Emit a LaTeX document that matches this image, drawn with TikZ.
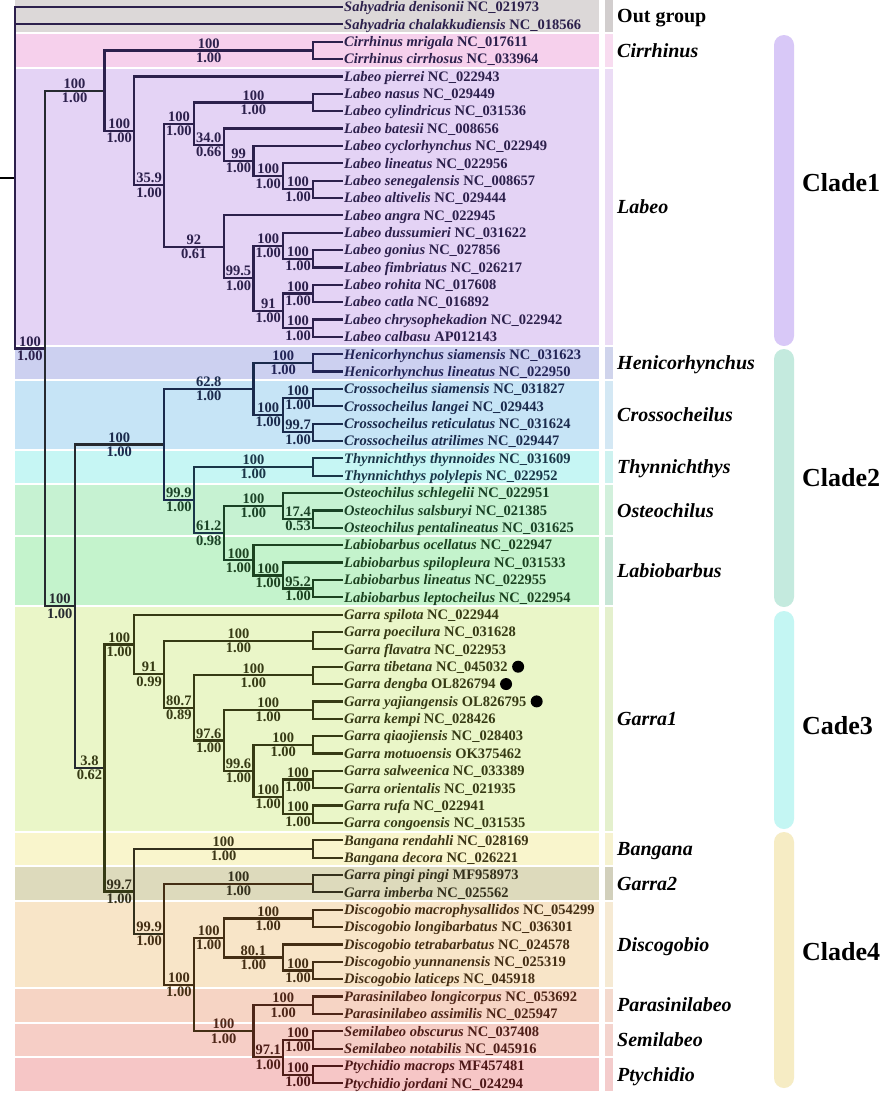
\documentclass[tikz,border=0pt]{standalone}
\usepackage{fontspec}
\setmainfont{Liberation Serif}
\usetikzlibrary{positioning, calc}

% band fills, side strips, clade bars
\definecolor{bgout}{RGB}{220,216,216}  \definecolor{stout}{RGB}{210,206,206}
\definecolor{bgcir}{RGB}{246,208,236}  \definecolor{stcir}{RGB}{248,220,240}
\definecolor{bglab}{RGB}{228,211,245}  \definecolor{stlab}{RGB}{235,220,245}
\definecolor{bghen}{RGB}{204,208,240}  \definecolor{sthen}{RGB}{208,212,236}
\definecolor{bgcro}{RGB}{198,228,246}  \definecolor{stcro}{RGB}{212,232,244}
\definecolor{bgthy}{RGB}{198,246,244}  \definecolor{stthy}{RGB}{206,242,240}
\definecolor{bgost}{RGB}{198,242,210}  \definecolor{stost}{RGB}{210,240,220}
\definecolor{bglbb}{RGB}{196,243,204}  \definecolor{stlbb}{RGB}{200,230,214}
\definecolor{bgga}{RGB}{234,246,200}   \definecolor{stga}{RGB}{228,240,205}
\definecolor{bgban}{RGB}{249,245,204}  \definecolor{stban}{RGB}{246,242,208}
\definecolor{bggb}{RGB}{221,218,188}   \definecolor{stgb}{RGB}{210,208,188}
\definecolor{bgdis}{RGB}{248,229,200}  \definecolor{stdis}{RGB}{246,234,212}
\definecolor{bgpar}{RGB}{246,212,196}  \definecolor{stpar}{RGB}{244,218,206}
\definecolor{bgsem}{RGB}{246,206,198}  \definecolor{stsem}{RGB}{244,212,206}
\definecolor{bgpty}{RGB}{246,198,198}  \definecolor{stpty}{RGB}{244,204,204}
\definecolor{barone}{RGB}{216,200,247}
\definecolor{bartwo}{RGB}{196,234,222}
\definecolor{barthree}{RGB}{196,246,243}
\definecolor{barfour}{RGB}{246,236,196}
% inks
\definecolor{inkpur}{RGB}{44,32,76}
\definecolor{inkhen}{RGB}{34,36,86}
\definecolor{inkcro}{RGB}{26,42,76}
\definecolor{inkthy}{RGB}{26,54,72}
\definecolor{inkost}{RGB}{26,66,38}
\definecolor{inklbb}{RGB}{28,66,32}
\definecolor{inkga}{RGB}{54,58,20}
\definecolor{inkban}{RGB}{60,54,22}
\definecolor{inkgb}{RGB}{52,48,28}
\definecolor{inkdis}{RGB}{68,46,20}
\definecolor{inkpar}{RGB}{78,38,24}
\definecolor{inksem}{RGB}{78,30,24}
\definecolor{inkpty}{RGB}{78,24,24}
\definecolor{inkmix}{RGB}{38,42,48}

\begin{document}
\begin{tikzpicture}[
    % GLOBAL SETTINGS
    x=1pt, y=-1pt,
    % STYLES
    leaf/.style={anchor=west, inner xsep=1pt, inner ysep=0pt, text height=9.6pt, text depth=0pt, font=\fontsize{14.5}{16}\selectfont\bfseries},
    supp/.style={inner sep=2pt, font=\fontsize{14.5}{16}\selectfont\bfseries},
    edge/.style={draw, line width=2.2pt},
    genus/.style={anchor=west, inner sep=0pt, text height=13.2pt, text depth=0pt, font=\fontsize{20}{22}\selectfont\bfseries\itshape},
    clade/.style={anchor=west, inner sep=0pt, text height=17.2pt, text depth=0pt, font=\fontsize{26}{28}\selectfont\bfseries},
    dot/.style={circle, fill=black, minimum size=12pt, inner sep=0pt},
    bar/.style={rounded corners=10pt}
]

    \path[use as bounding box, fill=white] (0,0) rectangle (886,1093);

    \def\dy{17.36}

    % Bands, strips and genus names
    \foreach \i/\j/\bg/\st/\gname in {0/1/bgout/stout/{\upshape Out group}, 2/3/bgcir/stcir/Cirrhinus,
        4/19/bglab/stlab/Labeo, 20/21/bghen/sthen/Henicorhynchus, 22/25/bgcro/stcro/Crossocheilus,
        26/27/bgthy/stthy/Thynnichthys, 28/30/bgost/stost/Osteochilus, 31/34/bglbb/stlbb/Labiobarbus,
        35/47/bgga/stga/Garra1, 48/49/bgban/stban/Bangana, 50/51/bggb/stgb/Garra2,
        52/56/bgdis/stdis/Discogobio, 57/58/bgpar/stpar/Parasinilabeo, 59/60/bgsem/stsem/Semilabeo,
        61/62/bgpty/stpty/Ptychidio} {
        \fill[\bg] (15,{7+\dy*(\i-0.5)+1}) rectangle (599,{7+\dy*(\j+0.5)-1});
        \fill[\st] (605,{7+\dy*(\i-0.5)+1}) rectangle (613,{7+\dy*(\j+0.5)-1});
        \node[genus] (g\i) at (617,{7+\dy*(\i+\j)/2}) {\gname};
    }

    % Clade bars
    \foreach \ya/\yb/\col/\cname/\yl in {35/346/barone/Clade1/183, 349/607/bartwo/Clade2/478,
        611/829/barthree/Cade3/726, 832/1088/barfour/Clade4/952} {
        \fill[\col, bar] (774,\ya) rectangle (794,\yb);
        \node[clade] (k\yl) at (802,\yl) {\cname};
    }

    % Leaves
    \foreach \i/\spc/\acc/\ink in {
        0/Sahyadria denisonii/NC\_021973/inkpur, 1/Sahyadria chalakkudiensis/NC\_018566/inkpur,
        2/Cirrhinus mrigala/NC\_017611/inkpur, 3/Cirrhinus cirrhosus/NC\_033964/inkpur,
        4/Labeo pierrei/NC\_022943/inkpur, 5/Labeo nasus/NC\_029449/inkpur,
        6/Labeo cylindricus/NC\_031536/inkpur, 7/Labeo batesii/NC\_008656/inkpur,
        8/Labeo cyclorhynchus/NC\_022949/inkpur, 9/Labeo lineatus/NC\_022956/inkpur,
        10/Labeo senegalensis/NC\_008657/inkpur, 11/Labeo altivelis/NC\_029444/inkpur,
        12/Labeo angra/NC\_022945/inkpur, 13/Labeo dussumieri/NC\_031622/inkpur,
        14/Labeo gonius/NC\_027856/inkpur, 15/Labeo fimbriatus/NC\_026217/inkpur,
        16/Labeo rohita/NC\_017608/inkpur, 17/Labeo catla/NC\_016892/inkpur,
        18/Labeo chrysophekadion/NC\_022942/inkpur, 19/Labeo calbasu/AP012143/inkpur,
        20/Henicorhynchus siamensis/NC\_031623/inkhen, 21/Henicorhynchus lineatus/NC\_022950/inkhen,
        22/Crossocheilus siamensis/NC\_031827/inkcro, 23/Crossocheilus langei/NC\_029443/inkcro,
        24/Crossocheilus reticulatus/NC\_031624/inkcro, 25/Crossocheilus atrilimes/NC\_029447/inkcro,
        26/Thynnichthys thynnoides/NC\_031609/inkthy, 27/Thynnichthys polylepis/NC\_022952/inkthy,
        28/Osteochilus schlegelii/NC\_022951/inkost, 29/Osteochilus salsburyi/NC\_021385/inkost,
        30/Osteochilus pentalineatus/NC\_031625/inkost, 31/Labiobarbus ocellatus/NC\_022947/inklbb,
        32/Labiobarbus spilopleura/NC\_031533/inklbb, 33/Labiobarbus lineatus/NC\_022955/inklbb,
        34/Labiobarbus leptocheilus/NC\_022954/inklbb, 35/Garra spilota/NC\_022944/inkga,
        36/Garra poecilura/NC\_031628/inkga, 37/Garra flavatra/NC\_022953/inkga,
        38/Garra tibetana/NC\_045032/inkga, 39/Garra dengba/OL826794/inkga,
        40/Garra yajiangensis/OL826795/inkga, 41/Garra kempi/NC\_028426/inkga,
        42/Garra qiaojiensis/NC\_028403/inkga, 43/Garra motuoensis/OK375462/inkga,
        44/Garra salweenica/NC\_033389/inkga, 45/Garra orientalis/NC\_021935/inkga,
        46/Garra rufa/NC\_022941/inkga, 47/Garra congoensis/NC\_031535/inkga,
        48/Bangana rendahli/NC\_028169/inkban, 49/Bangana decora/NC\_026221/inkban,
        50/Garra pingi pingi/MF958973/inkgb, 51/Garra imberba/NC\_025562/inkgb,
        52/Discogobio macrophysallidos/NC\_054299/inkdis, 53/Discogobio longibarbatus/NC\_036301/inkdis,
        54/Discogobio tetrabarbatus/NC\_024578/inkdis, 55/Discogobio yunnanensis/NC\_025319/inkdis,
        56/Discogobio laticeps/NC\_045918/inkdis, 57/Parasinilabeo longicorpus/NC\_053692/inkpar,
        58/Parasinilabeo assimilis/NC\_025947/inkpar, 59/Semilabeo obscurus/NC\_037408/inksem,
        60/Semilabeo notabilis/NC\_045916/inksem, 61/Ptychidio macrops/MF457481/inkpty,
        62/Ptychidio jordani/NC\_024294/inkpty} {
        \node[leaf, text=\ink] (l\i) at (343,{7+\dy*\i}) {\textit{\spc} \acc};
    }

    % Newly sequenced species
    \foreach \i in {38, 39, 40} {
        \node[dot, right=3pt of l\i] (dot\i) {};
    }

    % Cherries (two leaves)
    \foreach \n/\i/\ink in {cCir/2/inkpur, cNas/5/inkpur, cSen/10/inkpur, cGon/14/inkpur, cRoh/16/inkpur,
        cChr/18/inkpur, cHen/20/inkhen, cCsi/22/inkcro, cCre/24/inkcro, cThy/26/inkthy, cOsa/29/inkost,
        cLli/33/inklbb, cGpo/36/inkga, cGti/38/inkga, cGya/40/inkga, cGqi/42/inkga, cGsa/44/inkga,
        cGru/46/inkga, cBan/48/inkban, cGpi/50/inkgb, cDma/52/inkdis, cDyu/55/inkdis, cPar/57/inkpar,
        cSem/59/inksem, cPty/61/inkpty} {
        \pgfmathtruncatemacro\j{\i+1}
        \coordinate (\n) at ($(l\i.west)!0.5!(l\j.west) + (-30,0)$);
        \draw[edge, \ink] (l\i.west) -| (\n) |- (l\j.west);
    }

    % Inner nodes
    \foreach \n/\x/\y in {root/15/177.7, Ing/44.8/348.44, A/104.4/90.61, Lab/134.2/130.83,
        L1/164/185.21, L2/193.8/123.64, L4/223.6/144.8, L5/253.4/161.07, L6/283.2/176.26,
        L3/223.6/246.79, L7/253.4/278.25, L8/283.2/245.7, L9/283.2/310.8,
        B/74.6/606.26, C/164/444.53, C1/253.4/388.92, C3/283.2/414.96, C2/193.8/500.13,
        C4/223.6/533.23, C5/283.2/506.1, C6/253.4/560.35, C7/283.2/575.54,
        D/104.4/768, G0/134.2/644.44, G1/164/674.28, G2/193.8/707.91, G3/223.6/740.46,
        G4/253.4/770.84, G5/283.2/796.88, E/134.2/891.55, E2/164/934.13, E3/193.8/984.59,
        F1/223.6/937.93, F2/283.2/957.46, E4/253.4/1031.24, E5/283.2/1057.28} {
        \coordinate (\n) at (\x,\y);
    }
    \coordinate (stem) at (0,177.7);

    \draw[edge, black] (stem) -- (root);
    \draw[edge, inkpur] (root |- l1.west) -- (l1.west);
    \foreach \n/\ca/\cb/\ink in {root/l0.west/Ing/inkpur, Ing/A/B/inkmix, A/cCir/Lab/inkpur,
        Lab/l4.west/L1/inkpur, L1/L2/L3/inkpur, L2/cNas/L4/inkpur, L4/l7.west/L5/inkpur,
        L5/l8.west/L6/inkpur, L6/l9.west/cSen/inkpur, L3/l12.west/L7/inkpur, L7/L8/L9/inkpur,
        L8/l13.west/cGon/inkpur, L9/cRoh/cChr/inkpur,
        B/C/D/inkmix, C/C1/C2/inkcro, C1/cHen/C3/inkcro, C3/cCsi/cCre/inkcro, C2/cThy/C4/inkthy,
        C4/C5/C6/inkost, C5/l28.west/cOsa/inkost, C6/l31.west/C7/inklbb, C7/l32.west/cLli/inklbb,
        D/G0/E/inkga, G0/l35.west/G1/inkga, G1/cGpo/G2/inkga, G2/cGti/G3/inkga, G3/cGya/G4/inkga,
        G4/cGqi/G5/inkga, G5/cGsa/cGru/inkga,
        E/cBan/E2/inkgb, E2/cGpi/E3/inkdis, E3/F1/E4/inkdis, F1/cDma/F2/inkdis,
        F2/l54.west/cDyu/inkdis, E4/cPar/E5/inkpar, E5/cSem/cPty/inksem} {
        \draw[edge, \ink] (\ca) -| (\n) |- (\cb);
    }

    % Bootstrap (above) and posterior (below) values
    \foreach \pa/\ch/\bs/\pp/\ink in {root/Ing/100/1.00/inkpur, Ing/A/100/1.00/inkpur,
        A/cCir/100/1.00/inkpur, A/Lab/100/1.00/inkpur, Lab/L1/35.9/1.00/inkpur,
        L1/L2/100/1.00/inkpur, L2/cNas/100/1.00/inkpur, L2/L4/34.0/0.66/inkpur,
        L4/L5/99/1.00/inkpur, L5/L6/100/1.00/inkpur, L6/cSen/100/1.00/inkpur,
        L1/L3/92/0.61/inkpur, L3/L7/99.5/1.00/inkpur, L7/L8/100/1.00/inkpur,
        L8/cGon/100/1.00/inkpur, L7/L9/91/1.00/inkpur, L9/cRoh/100/1.00/inkpur,
        L9/cChr/100/1.00/inkpur, Ing/B/100/1.00/inkmix, B/C/100/1.00/inkcro,
        C/C1/62.8/1.00/inkcro, C1/cHen/100/1.00/inkhen, C1/C3/100/1.00/inkcro,
        C3/cCsi/100/1.00/inkcro, C3/cCre/99.7/1.00/inkcro, C/C2/99.9/1.00/inkost,
        C2/cThy/100/1.00/inkthy, C2/C4/61.2/0.98/inkost, C4/C5/100/1.00/inkost,
        C5/cOsa/17.4/0.53/inkost, C4/C6/100/1.00/inklbb, C6/C7/100/1.00/inklbb,
        C7/cLli/95.2/1.00/inklbb, B/D/3.8/0.62/inkga, D/G0/100/1.00/inkga,
        G0/G1/91/0.99/inkga, G1/cGpo/100/1.00/inkga, G1/G2/80.7/0.89/inkga,
        G2/cGti/100/1.00/inkga, G2/G3/97.6/1.00/inkga, G3/cGya/100/1.00/inkga,
        G3/G4/99.6/1.00/inkga, G4/cGqi/100/1.00/inkga, G4/G5/100/1.00/inkga,
        G5/cGsa/100/1.00/inkga, G5/cGru/100/1.00/inkga, D/E/99.7/1.00/inkgb,
        E/cBan/100/1.00/inkban, E/E2/99.9/1.00/inkdis, E2/cGpi/100/1.00/inkgb,
        E2/E3/100/1.00/inkdis, E3/F1/100/1.00/inkdis, F1/cDma/100/1.00/inkdis,
        F1/F2/80.1/1.00/inkdis, F2/cDyu/100/1.00/inkdis, E3/E4/100/1.00/inkpar,
        E4/cPar/100/1.00/inkpar, E4/E5/97.1/1.00/inksem, E5/cSem/100/1.00/inksem,
        E5/cPty/100/1.00/inkpty} {
        \path (\pa |- \ch) -- (\ch)
            node[midway, above, supp, text=\ink] (bs\ch) {\bs}
            node[midway, below, supp, text=\ink] (pp\ch) {\pp};
    }

\end{tikzpicture}
\end{document}
